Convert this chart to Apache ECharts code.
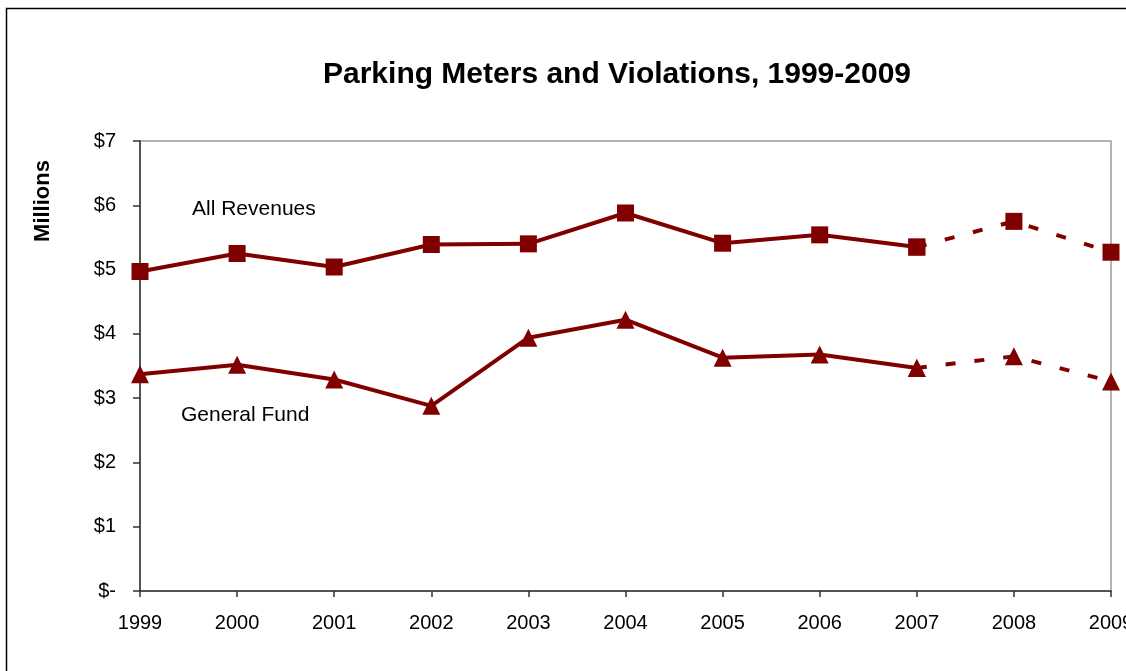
<!DOCTYPE html>
<html>
<head>
<meta charset="utf-8">
<script src="https://cdn.jsdelivr.net/npm/echarts@6/dist/echarts.min.js"></script>
<style>html,body{margin:0;padding:0;background:#fff}#c{width:1126px;height:671px}</style>
</head>
<body>
<div id="c"></div>
<script>
const years = ['1999','2000','2001','2002','2003','2004','2005','2006','2007','2008','2009'];
const allRevenues = [4.97, 5.25, 5.04, 5.39, 5.40, 5.88, 5.41, 5.54, 5.35, 5.75, 5.27];
const generalFund = [3.37, 3.52, 3.29, 2.88, 3.94, 4.22, 3.63, 3.68, 3.47, 3.65, 3.26];
const actualThrough = 8; // index of 2007; later years drawn dashed
const yTickLabels = {0:'$-',1:'$1',2:'$2',3:'$3',4:'$4',5:'$5',6:'$6',7:'$7'};

const solid = arr => arr.map((v,i) => i <= actualThrough ? v : null);
const dashed = arr => arr.map((v,i) => i >= actualThrough ? v : null);
const color = '#800000';
const font = 'Liberation Sans, Arial, sans-serif';

const chart = echarts.init(document.getElementById('c'), null, {renderer:'canvas'});
function lineSeries(name, data, symbol, size, dash) {
  return {
    name, type:'line', data, symbol, symbolSize:size, showSymbol:true,
    connectNulls:false, animation:false,
    lineStyle:{color, width:4, type: dash ? [10,19] : 'solid', cap:'butt'},
    itemStyle:{color, borderWidth:0}, z: 3
  };
}
chart.setOption({
  animation:false,
  backgroundColor:'#fff',
  title:{text:'Parking Meters and Violations, 1999-2009', left:318, top:55,
    textStyle:{fontFamily:font, fontSize:30, fontWeight:'bold', color:'#000'}},
  grid:{left:140, right:15, top:141, bottom:80, outerBoundsMode:'none', containLabel:false,
    show:true, borderColor:'#9a9a9a', borderWidth:1.5, backgroundColor:'transparent'},
  xAxis:{type:'category', data:years, boundaryGap:false,
    axisLine:{lineStyle:{color:'#333', width:1.5}},
    axisTick:{show:true, length:6, alignWithLabel:true, lineStyle:{color:'#333', width:1.5}},
    axisLabel:{fontFamily:font, fontSize:20, color:'#000', margin:22, interval:0, showMaxLabel:true, hideOverlap:false}},
  yAxis:{type:'value', min:0, max:7, interval:1,
    axisLine:{show:true, lineStyle:{color:'#333', width:1.5}},
    axisTick:{show:true, length:7, lineStyle:{color:'#333', width:1.5}},
    splitLine:{show:false},
    axisLabel:{fontFamily:font, fontSize:20, color:'#000', margin:24, formatter:v => yTickLabels[v]}},
  series:[
    lineSeries('All Revenues', solid(allRevenues), 'rect', 17, false),
    lineSeries('All Revenues (est.)', dashed(allRevenues), 'rect', 17, true),
    lineSeries('General Fund', solid(generalFund), 'triangle', 18, false),
    lineSeries('General Fund (est.)', dashed(generalFund), 'triangle', 18, true)
  ],
  graphic:[
    {type:'rect', left:4, top:6, z:-10, silent:true, shape:{width:1140, height:690},
      style:{fill:'none', stroke:'#000', lineWidth:1.5}},
    {type:'text', x:43, y:201, rotation:Math.PI/2, silent:true,
      style:{text:'Millions', font:'bold 22px '+font, fill:'#000', align:'center', verticalAlign:'middle'}},
    {type:'text', left:192, top:199, style:{text:'All Revenues', font:'21px '+font, fill:'#000'}},
    {type:'text', left:181, top:405, style:{text:'General Fund', font:'21px '+font, fill:'#000'}}
  ]
});
</script>
</body>
</html>
